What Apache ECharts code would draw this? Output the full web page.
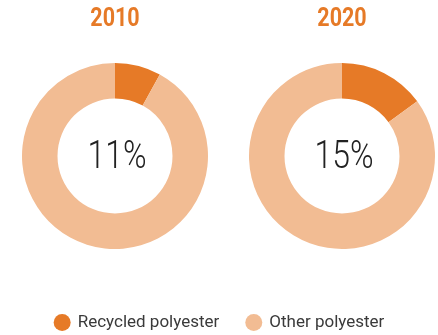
<!DOCTYPE html>
<html>
<head>
<meta charset="utf-8">
<script src="https://cdn.jsdelivr.net/npm/echarts@6/dist/echarts.min.js"></script>
<style>
html,body{margin:0;padding:0;background:#fff;}
#chart{width:438px;height:335px;}
</style>
</head>
<body>
<div id="chart"></div>
<script>
const years = ['2010', '2020'];
const categories = ['Recycled polyester', 'Other polyester'];
const recycledShare = [8, 15];      // slice sizes as drawn
const otherShare = [92, 85];
const centerLabels = ['11%', '15%'];

const colors = ['#E67A27', '#F2BC93'];
const centersX = [115, 342];
const centerY = 156;
const font = "Roboto, sans-serif";

const chart = echarts.init(document.getElementById('chart'), null, {renderer: 'canvas'});

const graphics = [];
const series = [];
years.forEach((y, i) => {
  graphics.push({
    type: 'text', x: centersX[i], y: 20, scaleX: 0.86,
    style: {text: y, fill: '#E67A27', fontSize: 25, fontWeight: 'bold', fontFamily: font,
            textAlign: 'center', textVerticalAlign: 'middle'}
  });
  graphics.push({
    type: 'text', x: centersX[i] + 2, y: centerY + 2, scaleX: 0.84,
    style: {text: centerLabels[i], fill: '#222', fontSize: 38, fontWeight: 300, fontFamily: font,
            textAlign: 'center', textVerticalAlign: 'middle'}
  });
  series.push({
    type: 'pie',
    center: [centersX[i], centerY],
    radius: [57.5, 93],
    startAngle: 90,
    clockwise: true,
    silent: true,
    label: {show: false},
    labelLine: {show: false},
    itemStyle: {borderWidth: 0},
    data: [
      {name: categories[0], value: recycledShare[i], itemStyle: {color: colors[0]}},
      {name: categories[1], value: otherShare[i], itemStyle: {color: colors[1]}}
    ]
  });
});

chart.setOption({
  animation: false,
  graphic: graphics,
  legend: {
    data: categories,
    left: 'center',
    top: 309,
    icon: 'circle',
    itemWidth: 17,
    itemHeight: 17,
    itemGap: 26,
    textStyle: {color: '#3a3a3a', fontSize: 17, fontFamily: font, padding: [0, 0, 0, 2]},
    selectedMode: false
  },
  series: series
});
</script>
</body>
</html>
